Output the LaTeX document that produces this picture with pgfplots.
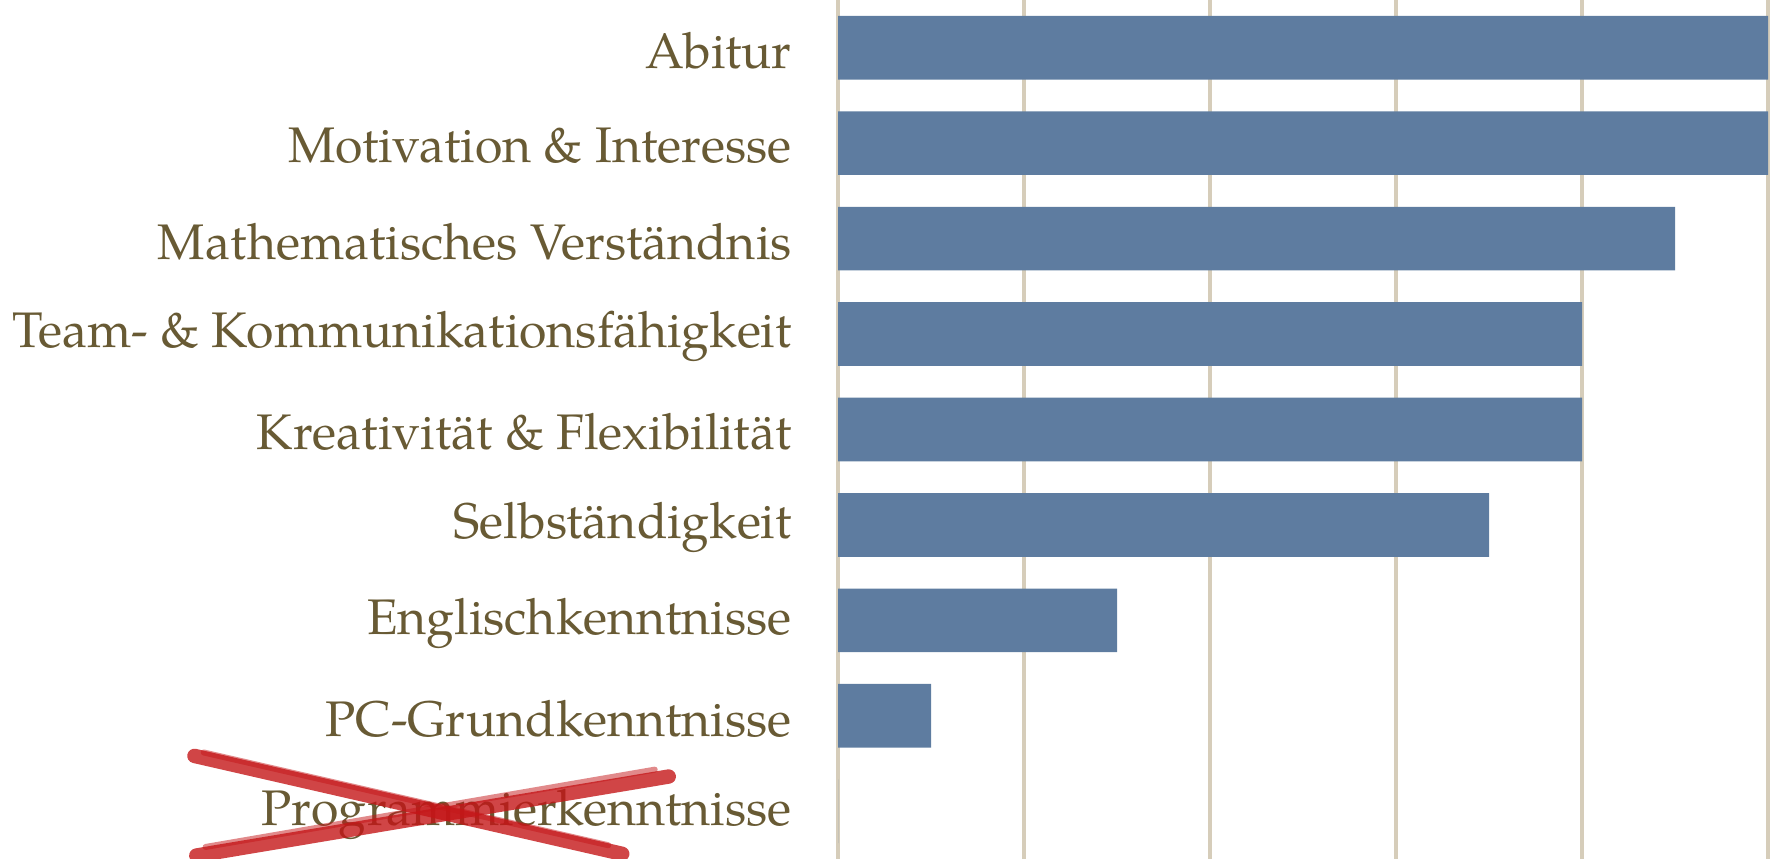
\documentclass[border=0pt]{standalone}
\usepackage{pgfplots}
\pgfplotsset{compat=1.18}
\usepackage{fontspec}
\setmainfont{TeX Gyre Pagella}
\definecolor{barblue}{RGB}{94,124,160}
\definecolor{labelbrown}{RGB}{104,90,52}
\definecolor{gridtan}{RGB}{214,205,186}
\definecolor{crossred}{RGB}{196,22,24}
\begin{document}
\begin{tikzpicture}
\begin{axis}[
  scale only axis,
  width=232.5pt, height=214.75pt,
  xbar, bar width=0.667,
  xmin=0, xmax=5,
  ymin=-0.5, ymax=8.5,
  y dir=reverse,
  axis line style={draw=none},
  xtick={0,1,2,3,4,5},
  xticklabels={},
  xmajorgrids,
  grid style={gridtan, line width=1.1pt},
  ytick={0,1,2,3,4,5,6,7,8},
  yticklabels={Abitur, Motivation \& Interesse, Mathematisches Verständnis, Team- \& Kommunikationsfähigkeit, Kreativität \& Flexibilität, Selbständigkeit, Englischkenntnisse, PC-Grundkenntnisse, Programmierkenntnisse},
  major tick length=0pt,
  yticklabel style={anchor=east, inner sep=0pt, xshift=-11.4pt, yshift=-0.7pt, font=\fontsize{12.5}{14}\selectfont, text=labelbrown},
  clip=false,
]
\addplot[fill=barblue, draw=none] coordinates {
  (5,0) (5,1) (4.5,2) (4,3) (4,4) (3.5,5) (1.5,6) (0.5,7) (0,8)
};
\coordinate (bl) at (rel axis cs:-0.9011,0);
\coordinate (tr) at (rel axis cs:1.0075,1);
\draw[crossred, line width=3.6pt, line cap=round, opacity=0.8]
  (rel axis cs:-0.692,0.120) -- (rel axis cs:-0.232,0.006);
\draw[crossred, line width=1.5pt, line cap=round, opacity=0.5]
  (rel axis cs:-0.682,0.124) -- (rel axis cs:-0.247,0.016);
\draw[crossred, line width=3.6pt, line cap=round, opacity=0.8]
  (rel axis cs:-0.182,0.096) -- (rel axis cs:-0.690,0.004);
\draw[crossred, line width=1.5pt, line cap=round, opacity=0.5]
  (rel axis cs:-0.197,0.104) -- (rel axis cs:-0.680,0.014);
\end{axis}
\pgfresetboundingbox
\path (bl) rectangle (tr);
\end{tikzpicture}
\end{document}
